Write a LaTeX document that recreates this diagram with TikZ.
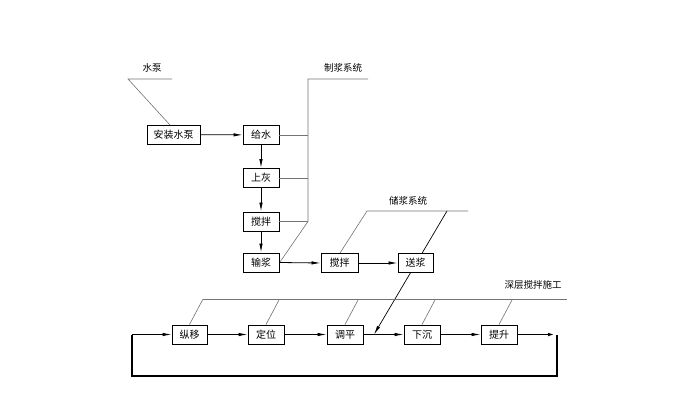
\documentclass[tikz,border=0pt]{standalone}
\usepackage{fontspec}
\newfontfamily\cjk{Noto Sans CJK SC}
\usetikzlibrary{arrows.meta,calc}
\begin{document}
\begin{tikzpicture}[x=1pt,y=-1pt,
  box/.style={draw=black,line width=0.9pt,fill=white,minimum width=36pt,minimum height=19pt,inner sep=0pt,font=\cjk\fontsize{10}{12}\selectfont},
  lbl/.style={font=\cjk\fontsize{9.5}{11}\selectfont,inner sep=0pt},
  guide/.style={draw=black!55,line width=0.6pt},
  flow/.style={draw=black,line width=0.8pt,-{Latex[length=9pt,width=3.4pt]}},
  plain/.style={draw=black,line width=0.8pt}]
\useasboundingbox (0,0) rectangle (681,415);
% coordinates
\coordinate (sb1) at (128,79);
\coordinate (sb2) at (172,79);
\coordinate (sbd) at (170,125);
\coordinate (zj0) at (308,79);
\coordinate (zj1) at (368,79);
\coordinate (zjb) at (308,221.5);
\coordinate (zjd) at (280,262);
\coordinate (cj0) at (367,211);
\coordinate (cj1) at (468,211);
\coordinate (cj2) at (447,211);
\coordinate (hit) at (374,334.5);
\coordinate (sc0) at (203,299);
\coordinate (sc1) at (567,299);
\coordinate (lp1) at (557,334.5);
\coordinate (lp2) at (557,376);
\coordinate (lp3) at (132,376);
\coordinate (lp4) at (132,334.5);
% diagonal feed line passes behind the 送浆 box
\draw[flow,line width=0.7pt] (cj2) -- (hit);
% boxes
\node[box,minimum width=53pt] (azsb) at (173.5,134.5) {安装水泵};
\node[box] (gs) at (261,135) {给水};
\node[box] (sh) at (261,178) {上灰};
\node[box] (jb1) at (261,221.5) {搅拌};
\node[box] (sj) at (261,262.5) {输浆};
\node[box,minimum width=37pt] (jb2) at (339.5,263) {搅拌};
\node[box,minimum width=35pt] (sj2) at (415.5,263) {送浆};
\node[box,minimum width=35pt] (zy) at (189.5,334.5) {纵移};
\node[box] (dw) at (266,334.5) {定位};
\node[box] (tp) at (345,334.5) {调平};
\node[box] (xc) at (422,334.5) {下沉};
\node[box] (ts) at (499,334.5) {提升};
% labels
\node[lbl] (lsb) at (152,68) {水泵};
\node[lbl] (lzj) at (343,68) {制浆系统};
\node[lbl] (lcj) at (408,201) {储浆系统};
\node[lbl] (lsc) at (533,285) {深层搅拌施工};
% guide lines
\draw[guide] (sb2) -- (sb1) -- (sbd);
\draw[guide] (zj1) -- (zj0) -- (zjb) -- (zjd);
\draw[guide] (gs.east) -- (gs.east -| zj0);
\draw[guide] (sh.east) -- (sh.east -| zj0);
\draw[guide] (jb1.east) -- (zjb);
\draw[guide] (cj1) -- (cj0) -- ($(jb2.north)+(0.5,0)$);
\draw[guide] (sc0) -- (sc1);
\foreach \n in {zy,dw,tp,xc,ts}{
  \draw[guide] (\n.north) -- ($(\n.north)+(13.5,-25.5)$);
}
% flow arrows
\draw[flow] (azsb) -- (gs);
\draw[flow] (gs) -- (sh);
\draw[flow] (sh) -- (jb1);
\draw[flow] (jb1) -- (sj);
\draw[flow] (sj.east) -- (jb2.west);
\draw[flow] (jb2) -- (sj2);
\draw[flow] (zy) -- (dw);
\draw[flow] (dw) -- (tp);
\draw[flow] (tp) -- (xc);
\draw[flow] (xc) -- (ts);
\draw[flow,line width=1.6pt] (ts.east) -- (lp1);
\draw[plain,line width=1.2pt] (lp1) -- (lp2) -- (lp3) -- (lp4);
\draw[flow] (lp4) -- (zy.west);
\end{tikzpicture}
\end{document}
